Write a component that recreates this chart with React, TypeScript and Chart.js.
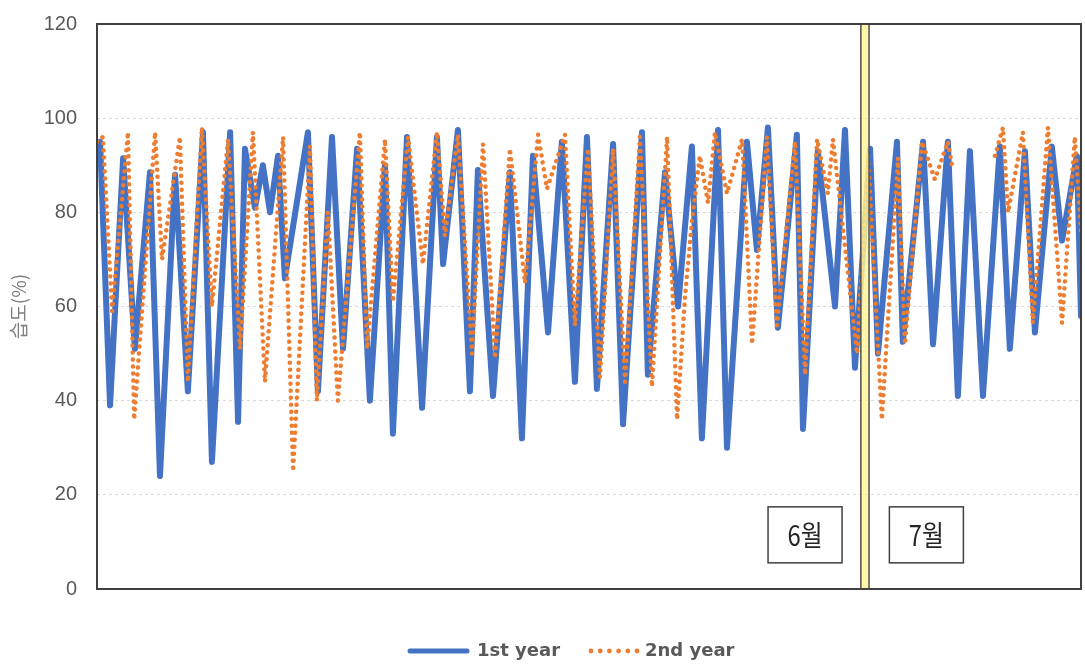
import { useEffect, useRef } from 'react';
import { Chart, registerables } from 'chart.js';

Chart.register(...registerables);

// ---- data (x = day from the start of June, y = relative humidity %) ----
const dayBlue = [
  0, 0.12, 0.51, 1.02, 1.48, 2.07, 2.46, 3.05, 3.55, 4.14, 4.49, 5.2, 5.51, 5.78, 6.17, 6.48, 6.76, 7.07, 7.34,
  8.24, 8.63, 9.18, 9.61, 10.16, 10.66, 11.25, 11.56, 12.11, 12.7, 13.28, 13.52, 14.1, 14.57, 14.88, 15.47,
  16.13, 16.6, 17.03, 17.62, 18.16, 18.67, 19.14, 19.53, 20.16, 20.55, 21.29, 21.52, 22.19, 22.7, 23.24, 23.63,
  24.26, 24.61, 25.39, 25.78, 26.21, 26.6, 27.34, 27.58, 28.16, 28.83, 29.22, 29.61, 30.2, 30.51, 31.25, 31.48,
  32.27, 32.66, 33.24, 33.63, 34.1, 34.61, 35.27, 35.66, 36.25, 36.64, 37.3, 37.7, 38.28, 38.44,
];
const humBlue = [
  93, 95, 39, 91.5, 51, 88.5, 24, 88, 42, 97, 27, 97, 35.5, 93.5, 81, 90, 80, 92, 66,
  97, 42, 96, 51, 93.5, 40, 90, 33, 96, 38.5, 96, 69, 97.5, 42, 89, 41,
  88.5, 32, 92, 54.5, 95, 44, 96, 42.5, 94.5, 35, 97, 45.5, 88.5, 60, 94, 32,
  97.5, 30, 95, 72, 98, 55.5, 96.5, 34, 93, 60, 97.5, 47, 93.5, 50, 95, 52.5,
  95, 52, 95, 41, 93, 41, 94, 51, 93, 54.5, 94, 74, 92, 58,
];
const dayOrange = [
  0, 0.23, 0.59, 1.21, 1.45, 2.27, 2.54, 3.24, 3.55, 4.1, 4.49, 5.12, 5.59, 6.09, 6.56, 7.27, 7.66, 8.32, 8.59,
  9.02, 9.41, 10.27, 10.55, 11.25, 11.56, 12.15, 12.73, 13.28, 13.59, 14.1, 14.65, 15.08, 15.55, 16.13, 16.72,
  17.23, 17.58, 18.28, 18.67, 19.18, 19.65, 20.16, 20.63, 21.21, 21.68, 22.27, 22.66, 22.97, 23.24, 23.55, 23.87,
  24.14, 24.61, 25.2, 25.59, 26.17, 26.56, 27.27, 27.66, 28.13, 28.55, 28.75, 29.69, 30.12, 30.66, 31.29, 31.56,
  32.23, 32.73, 33.24, 33.4, 34.3, 35.08, 35.39, 35.59, 36.17, 36.56, 37.15, 37.7, 38.2, 38.44,
];
const humOrange: (number | null)[] = [
  95, 96, 59, 97, 36, 97, 70, 96, 44, 98, 60, 95.5, 51, 97, 44, 96, 25, 94, 40,
  80, 40, 97, 51, 95.5, 61, 96, 69, 97, 75, 96.5, 50, 94.5, 49, 93.5, 65,
  96.5, 85, 96.5, 56, 93.5, 45, 93.5, 44, 96, 43, 96, 36, 62, 78, 92, 82,
  97, 84, 95.5, 52, 96, 56, 95, 45.5, 95.5, 84, 95.5, 50, 92, 36, 91.5, 52,
  95, 87, 95, 90, null, 92, 98, 80, 97, 56.5, 98, 56.5, 96, 76,
];
const seriesNames = ['1st year', '2nd year'];
const monthLabels = ['6월', '7월'];
const monthBoundary = 30;
const xMax = 38.44;
const yTicks = [0, 20, 40, 60, 80, 100, 120];
const yTitle = '습도(%)';

const BLUE = '#4472C4';
const ORANGE = '#ED7D31';

export default function App() {
  const ref = useRef<HTMLCanvasElement>(null);

  useEffect(() => {
    const overlay = {
      id: 'overlay',
      afterDatasetsDraw(chart: any) {
        const { ctx, chartArea } = chart;
        const xs = chart.scales.x;
        const ys = chart.scales.y;
        // month boundary band
        const bx0 = xs.getPixelForValue(monthBoundary - 0.16);
        const bx1 = xs.getPixelForValue(monthBoundary + 0.16);
        ctx.save();
        ctx.fillStyle = 'rgba(255, 244, 150, 0.82)';
        ctx.fillRect(bx0, chartArea.top, bx1 - bx0, chartArea.bottom - chartArea.top);
        ctx.strokeStyle = '#505050';
        ctx.lineWidth = 1.5;
        ctx.strokeRect(bx0, chartArea.top, bx1 - bx0, chartArea.bottom - chartArea.top);
        // month label boxes
        const centers = [monthBoundary - 2.34, monthBoundary + 2.4];
        const cy = ys.getPixelForValue(11.5);
        monthLabels.forEach((lab, i) => {
          const cx = xs.getPixelForValue(centers[i]);
          const w = 74, h = 56;
          ctx.fillStyle = '#ffffff';
          ctx.fillRect(cx - w / 2, cy - h / 2, w, h);
          ctx.strokeStyle = '#404040';
          ctx.lineWidth = 1.5;
          ctx.strokeRect(cx - w / 2, cy - h / 2, w, h);
          ctx.save();
          ctx.translate(cx, cy + 1);
          ctx.scale(0.85, 1);
          ctx.fillStyle = '#262626';
          ctx.font = '28px "Noto Sans CJK KR"';
          ctx.textAlign = 'center';
          ctx.textBaseline = 'middle';
          ctx.fillText(lab, 0, 0);
          ctx.restore();
        });
        ctx.restore();
      },
      afterDraw(chart: any) {
        const { ctx, chartArea } = chart;
        ctx.save();
        ctx.strokeStyle = '#404040';
        ctx.lineWidth = 2;
        ctx.strokeRect(chartArea.left, chartArea.top, chartArea.right - chartArea.left, chartArea.bottom - chartArea.top);
        // legend
        const ly = 651;
        ctx.lineCap = 'round';
        ctx.strokeStyle = BLUE;
        ctx.lineWidth = 5;
        ctx.beginPath();
        ctx.moveTo(410, ly);
        ctx.lineTo(467, ly);
        ctx.stroke();
        ctx.fillStyle = ORANGE;
        for (let i = 0; i < 6; i++) {
          ctx.beginPath();
          ctx.arc(591 + i * 9.2, ly, 2.4, 0, Math.PI * 2);
          ctx.fill();
        }
        ctx.fillStyle = '#595959';
        ctx.font = 'bold 18px "DejaVu Sans"';
        ctx.textBaseline = 'middle';
        ctx.textAlign = 'left';
        ctx.fillText(seriesNames[0], 477, ly);
        ctx.fillText(seriesNames[1], 645, ly);
        ctx.restore();
      },
    };

    const chart = new Chart(ref.current as HTMLCanvasElement, {
      type: 'line',
      data: {
        datasets: [
          {
            label: seriesNames[0],
            data: dayBlue.map((d, i) => ({ x: d, y: humBlue[i] })),
            borderColor: BLUE,
            borderWidth: 6,
            borderJoinStyle: 'round',
            borderCapStyle: 'round',
            pointRadius: 0,
            tension: 0,
            order: 1,
          },
          {
            label: seriesNames[1],
            data: dayOrange.map((d, i) => ({ x: d, y: humOrange[i] })),
            borderColor: ORANGE,
            borderWidth: 4.5,
            borderDash: [0.01, 7],
            borderCapStyle: 'round',
            pointRadius: 0,
            tension: 0,
            spanGaps: false,
            order: 0,
          },
        ],
      },
      options: {
        responsive: false,
        animation: false,
        layout: { padding: { left: 0, top: 24, right: 4, bottom: 76 } },
        plugins: { legend: { display: false }, tooltip: { enabled: false } },
        scales: {
          x: { type: 'linear', min: 0, max: xMax, display: false },
          y: {
            min: 0,
            max: 120,
            afterBuildTicks: (s: any) => {
              s.ticks = yTicks.map((v) => ({ value: v }));
            },
            afterFit: (s: any) => {
              s.width = 97;
            },
            ticks: {
              color: '#595959',
              padding: 0,
              font: { family: '"Liberation Sans Narrow", "Liberation Sans"', size: 20 },
            },
            grid: { color: '#d9d9d9', lineWidth: 1, drawTicks: true, tickLength: 20, tickColor: 'rgba(0,0,0,0)' },
            border: { display: false, dash: [3, 3] },
            title: {
              display: true,
              text: yTitle,
              color: '#7f7f7f',
              padding: { top: 7, bottom: 0 },
              font: { family: '"Noto Sans CJK KR"', size: 19 },
            },
          },
        },
      },
      plugins: [overlay],
    } as any);
    return () => chart.destroy();
  }, []);

  return (
    <div style={{ position: 'fixed', left: 0, top: 0, width: 1085, height: 665, background: '#fff' }}>
      <canvas ref={ref} width={1085} height={665} style={{ display: 'block' }} />
    </div>
  );
}
